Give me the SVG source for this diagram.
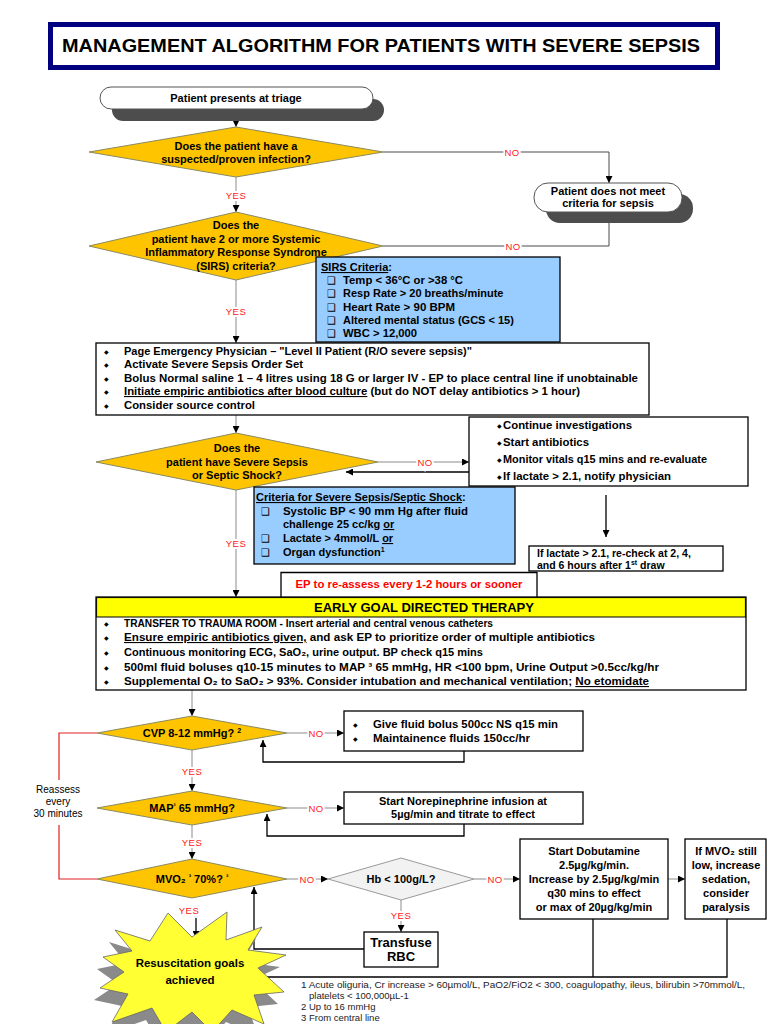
<svg xmlns="http://www.w3.org/2000/svg" width="768" height="1024" viewBox="0 0 768 1024">
<defs>
<marker id="ah" viewBox="0 0 10 10" refX="10" refY="5" markerWidth="7" markerHeight="7" markerUnits="userSpaceOnUse" orient="auto"><path d="M0,0 L10,5 L0,10 z" fill="#000"/></marker>
<style>
text{font-family:"Liberation Sans",Arial,sans-serif;font-weight:bold;font-size:11px;fill:#000}
.c{text-anchor:middle}
.d{font-size:11px}
.e{font-size:10.5px}
.lbl{font-weight:normal;font-size:9.5px;fill:#ff2020;stroke:#fff;stroke-width:4;paint-order:stroke;text-anchor:middle;letter-spacing:0.5px}
.dia{fill:#FFC400;stroke:#8a8a60;stroke-width:1}
.box{fill:#fff;stroke:#000;stroke-width:1.3}
.blue{fill:#99CCFF;stroke:#000;stroke-width:1.3}
.g{fill:none;stroke:#8c8c8c;stroke-width:1}
.k{fill:none;stroke:#4a4a4a;stroke-width:1}
.b{fill:none;stroke:#000;stroke-width:1.3}
.u{text-decoration:underline}
.bul{font-family:"DejaVu Sans",sans-serif;font-size:6px}
.chk{font-family:"DejaVu Sans",sans-serif;font-size:10px;font-weight:normal}
.fn{font-weight:normal;font-size:9.5px;fill:#222}
.red{fill:#ff0000}
.ttl{font-size:19px}
.hdr{font-size:12.5px}
.big{font-size:13px}
.star{font-size:11.5px}
.rs{font-weight:normal;font-size:10px}
</style>
</defs>

<g id="title">
<rect x="50.5" y="24.5" width="667" height="43" fill="#fff" stroke="#000080" stroke-width="5"/>
<text class="ttl" x="62" y="52" textLength="638" lengthAdjust="spacingAndGlyphs">MANAGEMENT ALGORITHM FOR PATIENTS WITH SEVERE SEPSIS</text>
</g>

<g id="connectors">
<line class="g" x1="236" y1="110" x2="236" y2="127" marker-end="url(#ah)"/>
<line class="g" x1="236" y1="177" x2="236" y2="212" marker-end="url(#ah)"/>
<polyline class="k" points="383,152 609,152 609,183" marker-end="url(#ah)"/>
<polyline class="k" points="383,246 609,246 609,223"/>
<line class="g" x1="236" y1="280" x2="236" y2="343" marker-end="url(#ah)"/>
<line class="g" x1="236" y1="415" x2="236" y2="433" marker-end="url(#ah)"/>
<line class="g" x1="378" y1="462" x2="469" y2="462" marker-end="url(#ah)"/>
<line class="b" x1="469" y1="472" x2="346" y2="472" marker-end="url(#ah)"/>
<line class="b" x1="606" y1="495" x2="606" y2="537" marker-end="url(#ah)"/>
<line class="g" x1="236" y1="490" x2="236" y2="597" marker-end="url(#ah)"/>
<line class="g" x1="192" y1="690" x2="192" y2="716" marker-end="url(#ah)"/>
<line class="g" x1="287" y1="733" x2="344" y2="733" marker-end="url(#ah)"/>
<polyline class="b" points="464,751 464,762 263,762 263,740" marker-end="url(#ah)"/>
<line class="g" x1="192" y1="750" x2="192" y2="791" marker-end="url(#ah)"/>
<line class="g" x1="287" y1="808" x2="344" y2="808" marker-end="url(#ah)"/>
<polyline class="b" points="464,824 464,836 267,836 267,814" marker-end="url(#ah)"/>
<line class="g" x1="192" y1="825" x2="192" y2="859" marker-end="url(#ah)"/>
<polyline fill="none" stroke="#e02020" stroke-width="1.2" points="97,733 59,733 59,780"/>
<polyline fill="none" stroke="#e02020" stroke-width="1.2" points="59,825 59,879 97,879"/>
<line class="g" x1="287" y1="879" x2="328" y2="879" marker-end="url(#ah)"/>
<line class="g" x1="474" y1="879" x2="520" y2="879" marker-end="url(#ah)"/>
<line class="g" x1="668" y1="879" x2="685" y2="879" marker-end="url(#ah)"/>
<line class="g" x1="401" y1="900" x2="401" y2="932" marker-end="url(#ah)"/>
<polyline class="b" points="364,949 254,949 254,887" marker-end="url(#ah)"/>
<polyline class="b" points="727,919 727,977 250,977"/>
<line class="b" x1="593" y1="919" x2="593" y2="977"/>
<line class="b" x1="196" y1="918" x2="196" y2="938" marker-end="url(#ah)"/>
<text class="lbl" x="236" y="198.5">YES</text>
<text class="lbl" x="512" y="155.5">NO</text>
<text class="lbl" x="513" y="249.5">NO</text>
<text class="lbl" x="236" y="314.5">YES</text>
<text class="lbl" x="425" y="465.5">NO</text>
<text class="lbl" x="236" y="546.5">YES</text>
<text class="lbl" x="316" y="736.5">NO</text>
<text class="lbl" x="192" y="774.5">YES</text>
<text class="lbl" x="316" y="811.5">NO</text>
<text class="lbl" x="192" y="845.5">YES</text>
<text class="lbl" x="307" y="882.5">NO</text>
<text class="lbl" x="495" y="882.5">NO</text>
<text class="lbl" x="401" y="918.5">YES</text>
<text class="lbl" x="189" y="913.5">YES</text>
<text class="c rs" x="58" y="793">Reassess</text>
<text class="c rs" x="58" y="805">every</text>
<text class="c rs" x="58" y="817">30 minutes</text>
</g>

<g id="n-triage">
<rect x="112" y="99" width="272" height="22" rx="11" fill="#4d4d4d"/>
<rect x="100" y="87" width="273" height="22" rx="11" fill="#fff" stroke="#555" stroke-width="1"/>
<text class="c d" x="236" y="102">Patient presents at triage</text>
</g>

<g id="n-infection">
<polygon class="dia" points="236,127 383,152 236,177 89,152"/>
<text class="c d" x="236" y="150">Does the patient have a</text>
<text class="c d" x="236" y="163">suspected/proven infection?</text>
</g>

<g id="n-notsepsis">
<rect x="546" y="194" width="147" height="29" rx="14" fill="#4d4d4d"/>
<rect x="534" y="183" width="148" height="29" rx="14" fill="#fff" stroke="#555" stroke-width="1"/>
<text class="c d" x="608" y="195">Patient does not meet</text>
<text class="c d" x="608" y="207">criteria for sepsis</text>
</g>

<g id="n-sirsq">
<polygon class="dia" points="236,212 383,246 236,280 89,246"/>
<text class="c d" x="236" y="229">Does the</text>
<text class="c d" x="236" y="243">patient have 2 or more Systemic</text>
<text class="c d" x="236" y="256">Inflammatory Response Syndrome</text>
<text class="c d" x="236" y="270">(SIRS) criteria?</text>
</g>

<g id="n-sirs">
<rect class="blue" x="316" y="257" width="244" height="85"/>
<text x="321" y="271"><tspan class="u">SIRS Criteria</tspan>:</text>
<text class="chk" x="327" y="284">❑</text>
<text class="chk" x="327" y="297">❑</text>
<text class="chk" x="327" y="311">❑</text>
<text class="chk" x="327" y="324">❑</text>
<text class="chk" x="327" y="337">❑</text>
<text x="343" y="284" textLength="120" lengthAdjust="spacingAndGlyphs">Temp &lt; 36°C or &gt;38 °C</text>
<text x="343" y="297">Resp Rate &gt; 20 breaths/minute</text>
<text x="343" y="311" textLength="112" lengthAdjust="spacingAndGlyphs">Heart Rate &gt; 90 BPM</text>
<text x="343" y="324">Altered mental status (GCS &lt; 15)</text>
<text x="343" y="337" textLength="74" lengthAdjust="spacingAndGlyphs">WBC &gt; 12,000</text>
</g>

<g id="n-actions">
<rect class="box" x="96" y="343" width="553" height="72"/>
<text class="bul" x="104" y="354">◆</text>
<text class="bul" x="104" y="367">◆</text>
<text class="bul" x="104" y="381">◆</text>
<text class="bul" x="104" y="394">◆</text>
<text class="bul" x="104" y="408">◆</text>
<text x="124" y="355">Page Emergency Physician – "Level II Patient (R/O severe sepsis)"</text>
<text x="124" y="368" textLength="179" lengthAdjust="spacingAndGlyphs">Activate Severe Sepsis Order Set</text>
<text x="124" y="382" textLength="514" lengthAdjust="spacingAndGlyphs">Bolus Normal saline 1 – 4 litres using 18 G or larger IV -  EP to place central line if unobtainable</text>
<text x="124" y="395" textLength="456" lengthAdjust="spacingAndGlyphs"><tspan class="u">Initiate empiric antibiotics after blood culture</tspan> (but do NOT delay antibiotics &gt; 1 hour)</text>
<text x="124" y="409" textLength="131" lengthAdjust="spacingAndGlyphs">Consider source control</text>
</g>

<g id="n-severeq">
<polygon class="dia" points="236,433 378,462 236,490 96,462"/>
<text class="c d" x="237" y="452">Does the</text>
<text class="c d" x="237" y="466">patient have Severe Sepsis</text>
<text class="c d" x="237" y="479">or Septic Shock?</text>
</g>

<g id="n-continue">
<rect class="box" x="469" y="417" width="279" height="69"/>
<text class="bul" x="497" y="428">◆</text>
<text class="bul" x="497" y="445">◆</text>
<text class="bul" x="497" y="462">◆</text>
<text class="bul" x="497" y="479">◆</text>
<text x="503" y="429" textLength="129" lengthAdjust="spacingAndGlyphs">Continue investigations</text>
<text x="503" y="446" textLength="86" lengthAdjust="spacingAndGlyphs">Start antibiotics</text>
<text x="503" y="463" textLength="204" lengthAdjust="spacingAndGlyphs">Monitor vitals q15 mins and re-evaluate</text>
<text x="503" y="480" textLength="168" lengthAdjust="spacingAndGlyphs">If lactate &gt; 2.1, notify physician</text>
</g>

<g id="n-criteria">
<rect class="blue" x="254" y="487" width="261" height="77"/>
<text x="256" y="501"><tspan class="u">Criteria for Severe Sepsis/Septic Shock</tspan>:</text>
<text class="chk" x="261" y="515">❑</text>
<text class="chk" x="261" y="542">❑</text>
<text class="chk" x="261" y="556">❑</text>
<text x="283" y="515" textLength="185" lengthAdjust="spacingAndGlyphs">Systolic BP &lt; 90 mm Hg after fluid</text>
<text x="283" y="528">challenge 25 cc/kg <tspan class="u">or</tspan></text>
<text x="283" y="542">Lactate &gt; 4mmol/L <tspan class="u">or</tspan></text>
<text x="283" y="556">Organ dysfunction<tspan font-size="7" dy="-4">1</tspan></text>
</g>

<g id="n-lactate">
<rect class="box" x="529" y="546" width="194" height="25"/>
<text class="e" x="537" y="557">If lactate &gt; 2.1, re-check at 2, 4,</text>
<text class="e" x="537" y="569">and 6 hours after 1<tspan font-size="7" dy="-4">st</tspan><tspan dy="4"> draw</tspan></text>
</g>

<g id="n-reassess">
<polyline class="b" points="281,597 281,572.5 537,572.5 537,597"/>
<text class="c red" x="409" y="588" textLength="227" lengthAdjust="spacingAndGlyphs">EP to re-assess every 1-2 hours or sooner</text>
</g>

<g id="n-egdt">
<rect class="box" x="96" y="597" width="650" height="93"/>
<rect x="96.6" y="597.6" width="648.8" height="19.4" fill="#FFFF00" stroke="#000" stroke-width="1"/>
<text class="c hdr" x="424" y="612" textLength="220" lengthAdjust="spacingAndGlyphs">EARLY GOAL DIRECTED THERAPY</text>
<text class="bul" x="104" y="626">◆</text>
<text class="bul" x="104" y="640">◆</text>
<text class="bul" x="104" y="655">◆</text>
<text class="bul" x="104" y="670">◆</text>
<text class="bul" x="104" y="684">◆</text>
<text x="124" y="627" textLength="369" lengthAdjust="spacingAndGlyphs">TRANSFER TO TRAUMA ROOM - Insert arterial and central venous catheters</text>
<text x="124" y="641" textLength="471" lengthAdjust="spacingAndGlyphs"><tspan class="u">Ensure empiric antibiotics given,</tspan> and ask EP to prioritize order of multiple antibiotics</text>
<text x="124" y="656" textLength="359" lengthAdjust="spacingAndGlyphs">Continuous monitoring ECG, SaO₂, urine output. BP check q15 mins</text>
<text x="124" y="671" textLength="535" lengthAdjust="spacingAndGlyphs">500ml fluid boluses q10-15 minutes to MAP ³ 65 mmHg, HR &lt;100 bpm, Urine Output &gt;0.5cc/kg/hr</text>
<text x="124" y="685" textLength="525" lengthAdjust="spacingAndGlyphs">Supplemental O₂ to SaO₂ &gt; 93%. Consider intubation and mechanical ventilation; <tspan class="u">No etomidate</tspan></text>
</g>

<g id="n-cvp">
<polygon class="dia" points="192,716 287,733 192,750 97,733"/>
<text class="c d" x="192" y="737">CVP 8-12 mmHg? <tspan font-size="7" dy="-4">2</tspan></text>
</g>

<g id="n-fluid">
<rect class="box" x="344" y="711" width="239" height="40"/>
<text class="bul" x="353" y="727">◆</text>
<text class="bul" x="353" y="741">◆</text>
<text x="373" y="728" textLength="185" lengthAdjust="spacingAndGlyphs">Give fluid bolus 500cc NS q15 min</text>
<text x="373" y="742" textLength="157" lengthAdjust="spacingAndGlyphs">Maintainence fluids 150cc/hr</text>
</g>

<g id="n-map">
<polygon class="dia" points="192,791 287,808 192,825 97,808"/>
<text class="c d" x="192" y="812">MAP<tspan font-size="6" dy="-4">³</tspan><tspan dy="4">  65 mmHg?</tspan></text>
</g>

<g id="n-norepi">
<rect class="box" x="344" y="792" width="239" height="32"/>
<text class="c" x="463" y="805">Start Norepinephrine infusion at</text>
<text class="c" x="463" y="818">5µg/min and titrate to effect</text>
</g>

<g id="n-mvo2">
<polygon class="dia" points="192,859 287,879 192,898 97,879"/>
<text class="c d" x="192" y="883">MVO₂ <tspan font-size="7" dy="-4">³</tspan><tspan dy="4"> 70%? </tspan><tspan font-size="7" dy="-4">³</tspan></text>
</g>

<g id="n-hb">
<polygon points="401,858 474,879 401,900 328,879" fill="#F2F2F2" stroke="#9a9a9a" stroke-width="1"/>
<text class="c d" x="401" y="883">Hb &lt; 100g/L?</text>
</g>

<g id="n-dobutamine">
<rect class="box" x="520" y="839" width="148" height="80"/>
<text class="c d" x="594" y="855">Start Dobutamine</text>
<text class="c d" x="594" y="869">2.5µg/kg/min.</text>
<text class="c d" x="594" y="883">Increase by 2.5µg/kg/min</text>
<text class="c d" x="594" y="897">q30 mins to effect</text>
<text class="c d" x="594" y="911">or max of 20µg/kg/min</text>
</g>

<g id="n-sedation">
<rect class="box" x="685" y="839" width="81" height="80"/>
<text class="c d" x="726" y="855">If MVO₂ still</text>
<text class="c d" x="726" y="869">low, increase</text>
<text class="c d" x="726" y="883">sedation,</text>
<text class="c d" x="726" y="897">consider</text>
<text class="c d" x="726" y="911">paralysis</text>
</g>

<g id="n-transfuse">
<rect class="box" x="364" y="932" width="74" height="35"/>
<text class="c big" x="401" y="947">Transfuse</text>
<text class="c big" x="401" y="961">RBC</text>
</g>

<g id="n-goals">
<polygon fill="#8a8a8a" points="162,925 186,949 221,924 220,952 256,939 242,962 280,967 252,980 278,1004 248,1007 258,1036 226,1022 206,1044 186,1024 160,1044 146,1020 106,1034 122,1006 94,1000 118,984 97,969 126,963 109,942 144,953"/>
<polygon fill="#FFFF33" stroke="#666" stroke-width="0.8" points="168,913 192,937 227,912 226,940 262,927 248,950 286,955 258,968 284,992 254,995 264,1024 232,1010 212,1032 192,1012 166,1032 152,1008 112,1022 128,994 100,988 124,972 103,957 132,951 115,930 150,941"/>
<text class="c star" x="190" y="967">Resuscitation goals</text>
<text class="c star" x="190" y="984">achieved</text>
</g>

<g id="footnotes">
<text class="fn" x="301" y="988" textLength="444" lengthAdjust="spacingAndGlyphs">1 Acute oliguria, Cr increase &gt; 60µmol/L, PaO2/FiO2 &lt; 300, coagulopathy, ileus, bilirubin &gt;70mmol/L,</text>
<text class="fn" x="309" y="999">platelets &lt; 100,000µL-1</text>
<text class="fn" x="301" y="1010">2  Up to 16 mmHg</text>
<text class="fn" x="301" y="1021">3  From central line</text>
</g>
</svg>
